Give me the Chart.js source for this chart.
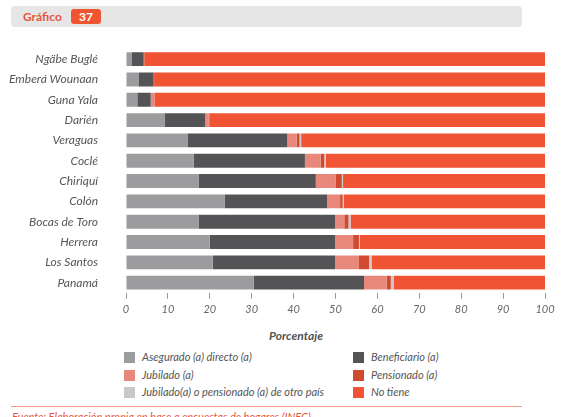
<!DOCTYPE html>
<html>
<head>
<meta charset="utf-8">
<script src="https://cdn.jsdelivr.net/npm/chart.js@4"></script>
<style>
  body { margin: 0; background: #fff; font-family: Lato, sans-serif; }
  #wrap { position: relative; width: 572px; height: 417px; overflow: hidden; }
  #band { position: absolute; left: 11px; top: 6px; width: 511px; height: 21px; background: #e6e6e6; border-radius: 4px; }
  #band .lbl { position: absolute; left: 12px; top: 3px; color: #e8553a; font-weight: bold; font-size: 12px; }
  #band .num { position: absolute; left: 60px; top: 3px; width: 30px; height: 15px; background: #f05532; border-radius: 3px;
               color: #fff; font-weight: bold; font-size: 12px; text-align: center; line-height: 15px; }
  #chartBox { position: absolute; left: 0; top: 0; width: 572px; height: 320px; }
  #xtitle { position: absolute; left: 246px; width: 100px; top: 328px; text-align: center; font-style: italic; font-weight: bold; font-size: 12px; color: #555; }
  #legend { position: absolute; left: 124px; top: 350px; width: 420px; }
  .item { position: absolute; font-style: italic; font-size: 11px; color: #555; white-space: nowrap; }
  .item span.sw { display: inline-block; width: 11px; height: 11px; vertical-align: -2px; margin-right: 7px; }
  #rule { position: absolute; left: 11px; top: 406px; width: 511px; height: 1px; background: #f29a86; }
  #source { position: absolute; left: 12px; top: 410px; font-style: italic; font-size: 11px; color: #e8553a; white-space: nowrap; }
</style>
</head>
<body>
<div id="wrap">
  <div id="band"><div class="lbl">Gráfico</div><div class="num">37</div></div>
  <div id="chartBox"><canvas id="chart"></canvas></div>
  <div id="xtitle">Porcentaje</div>
  <div id="legend"></div>
  <div id="rule"></div>
  <div id="source">Fuente: Elaboración propia en base a encuestas de hogares (INEC)</div>
</div>
<script>
// Regions (top to bottom)
const regions = ['Ngäbe Buglé', 'Emberá Wounaan', 'Guna Yala', 'Darién', 'Veraguas', 'Coclé',
                 'Chiriquí', 'Colón', 'Bocas de Toro', 'Herrera', 'Los Santos', 'Panamá'];

// Percentages per insurance status
const asegurado   = [1.3, 3.1, 2.7, 9.3, 14.8, 16.2, 17.4, 23.6, 17.4, 20.0, 20.7, 30.5];
const beneficiario = [2.8, 3.4, 3.2, 9.6, 23.7, 26.5, 27.9, 24.4, 32.5, 29.9, 29.2, 26.3];
const jubilado    = [0.0, 0.0, 1.0, 0.8, 2.2, 3.8, 4.8, 3.1, 2.2, 4.3, 5.7, 5.4];
const pensionado  = [0.3, 0.2, 0.0, 0.2, 0.7, 0.8, 1.4, 0.6, 1.0, 1.4, 2.4, 1.0];
const otroPais    = [0.0, 0.0, 0.0, 0.0, 0.4, 0.4, 0.3, 0.3, 0.5, 0.2, 0.6, 0.7];
const noTiene     = [95.6, 93.3, 93.1, 80.1, 58.2, 52.3, 48.2, 48.0, 46.4, 44.2, 41.4, 36.1];

const xTicks = [0, 10, 20, 30, 40, 50, 60, 70, 80, 90, 100];

const series = [
  { label: 'Asegurado (a) directo (a)', data: asegurado, color: '#9c9c9e' },
  { label: 'Beneficiario (a)', data: beneficiario, color: '#545456' },
  { label: 'Jubilado (a)', data: jubilado, color: '#e8887c' },
  { label: 'Pensionado (a)', data: pensionado, color: '#cf4a2f' },
  { label: 'Jubilado(a) o pensionado (a) de otro país', data: otroPais, color: '#c8c8c8' },
  { label: 'No tiene', data: noTiene, color: '#f05434' }
];

const ctx = document.getElementById('chart').getContext('2d');
const chart = new Chart(ctx, {
  type: 'bar',
  data: {
    labels: regions,
    datasets: series.map(s => ({
      label: s.label,
      data: s.data,
      backgroundColor: s.color,
      borderWidth: 0,
      barPercentage: 0.72,
      categoryPercentage: 0.95
    }))
  },
  options: {
    indexAxis: 'y',
    responsive: true,
    maintainAspectRatio: false,
    animation: false,
    layout: { padding: { top: 49, right: 27, bottom: 0, left: 0 } },
    plugins: { legend: { display: false }, tooltip: { enabled: false } },
    scales: {
      x: {
        stacked: true,
        min: 0,
        max: 100,
        afterBuildTicks: (scale) => { scale.ticks = xTicks.map(v => ({ value: v })); },
        grid: { drawOnChartArea: false, color: '#999', tickLength: 6 },
        border: { display: false },
        ticks: { color: '#666', padding: 4, font: { family: 'Lato', style: 'italic', size: 11 } }
      },
      y: {
        stacked: true,
        grid: { display: false },
        border: { display: false },
        afterFit: (scale) => { scale.width = 126; },
        ticks: { color: '#555', padding: 20, font: { family: 'Lato', style: 'italic', size: 12 } }
      }
    }
  }
});

// legend in two columns, built from the chart datasets
const legend = document.getElementById('legend');
const order = [0, 1, 2, 3, 4, 5];
chart.data.datasets.forEach((ds, i) => {
  const col = i % 2, row = Math.floor(i / 2);
  const el = document.createElement('div');
  el.className = 'item';
  el.style.left = (col ? 229 : 0) + 'px';
  el.style.top = (row * 17.5) + 'px';
  el.innerHTML = '<span class="sw" style="background:' + ds.backgroundColor + '"></span>' + ds.label;
  legend.appendChild(el);
});
</script>
</body>
</html>
